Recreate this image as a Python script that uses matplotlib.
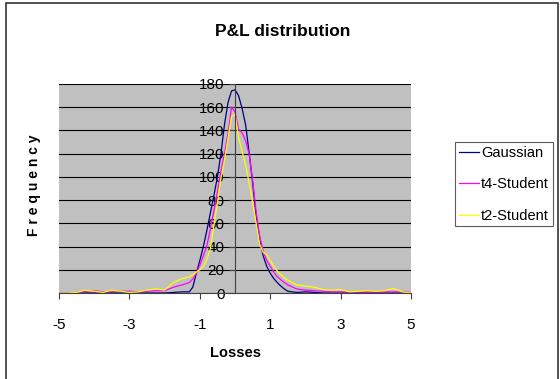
import numpy as np
import matplotlib.pyplot as plt
from matplotlib.patches import Rectangle

plt.rcParams['font.family'] = ['Liberation Sans', 'DejaVu Sans']
plt.rcParams['axes.unicode_minus'] = False

losses = [-5.0, -4.75, -4.5, -4.25, -4.0, -3.75, -3.5, -3.25, -3.0, -2.75,
          -2.5, -2.25, -2.0, -1.75, -1.5,
          -1.4, -1.3, -1.2, -1.1, -1.0, -0.9, -0.8, -0.7, -0.6, -0.5,
          -0.4, -0.3, -0.2, -0.1, 0.0, 0.1, 0.2, 0.3, 0.4, 0.5,
          0.6, 0.7, 0.8, 0.9, 1.0, 1.1, 1.2, 1.3, 1.4,
          1.5, 1.75, 2.0, 2.25, 2.5, 2.75, 3.0, 3.25, 3.5, 3.75,
          4.0, 4.25, 4.5, 4.75, 5.0]

gaussian = [0, 0, 0, 0, 0, 0, 0, 0, 0, 0,
            0, 0, 0, 0.5, 1,
            1, 1, 5, 17, 28, 40, 54, 69, 84, 100,
            120, 145, 164, 174, 175, 170, 159, 145, 121, 95,
            66, 46, 32, 23, 17, 12.5, 9, 6, 3.5,
            1.5, 0.5, 1, 0.5, 0, 0, 0, 0, 0, 0,
            0, 0, 0, 0, 0]

t4_student = [0, 0, 0.5, 1.5, 2, 1, 1.5, 1.5, 1.5, 1,
              1.5, 2, 2, 5, 7,
              8, 9, 12, 17, 24, 32, 41, 55, 71, 87,
              105, 120, 137, 160, 156, 141, 138, 131, 120, 97,
              70, 49, 36, 28, 23, 18, 14, 11.5, 9,
              7, 3.5, 2.5, 2, 1.5, 1, 1, 1, 1, 1,
              1, 1, 1, 1, 0.5]

t2_student = [0, 0, 0.5, 2.5, 1.5, 0.5, 2.5, 1.5, 0.5, 1,
              2.5, 3.5, 2.5, 9, 12.5,
              13, 14, 15.5, 18, 20, 23, 29, 38, 58, 78,
              99, 114, 133, 152, 154, 134, 122, 110, 95, 78,
              60, 42, 35, 33, 28, 23, 19, 16, 13,
              11, 7, 6, 5, 3, 2.5, 3, 1, 1.5, 2,
              1.5, 2, 4, 1, 0]

fig = plt.figure(figsize=(5.6, 3.79), dpi=100)
# chart frame (bottom edge falls just outside the picture)
fig.patches.append(Rectangle((0.0107, -0.02), 0.9857, 1.012, transform=fig.transFigure,
                             fill=False, edgecolor='#333333', linewidth=1.2))

ax = fig.add_axes([0.1054, 0.2269, 0.6286, 0.5515])
ax.set_facecolor('#C0C0C0')

ax.plot(losses, gaussian, color='#000080', lw=0.9, label='Gaussian')
ax.plot(losses, t4_student, color='#FF00FF', lw=0.9, label='t4-Student')
ax.plot(losses, t2_student, color='#FFFF00', lw=0.9, label='t2-Student')

ax.set_xlim(-5, 5)
ax.set_ylim(0, 180)
ax.set_xticks([-5, -3, -1, 1, 3, 5])
ax.set_yticks(range(0, 181, 20))
ax.yaxis.grid(True, color='black', lw=0.8)
ax.set_axisbelow(True)

for s in ['top', 'right']:
    ax.spines[s].set_visible(False)
ax.spines['left'].set_position(('data', 0))
ax.spines['left'].set_color('#404040')
ax.spines['bottom'].set_color('#404040')
ax.tick_params(axis='both', labelsize=11, direction='out', length=4, color='#404040')
ax.tick_params(axis='x', pad=14)

fig.text(0.504, 0.918, 'P&L distribution', fontsize=12.5, fontweight='bold',
         ha='center', va='center')
ax.set_xlabel('Losses', fontsize=10.5, fontweight='bold', labelpad=10)
fig.text(0.06, 0.51, 'F r e q u e n c y', rotation=90, fontsize=10, fontweight='bold',
         ha='center', va='center')

leg = ax.legend(loc='upper left', bbox_to_anchor=(0.8125, 0.6253), bbox_transform=fig.transFigure,
                fontsize=10.5, frameon=True, fancybox=False, edgecolor='#333333',
                handlelength=1.4, handletextpad=0.15, borderpad=0.25, labelspacing=1.2,
                borderaxespad=0)
leg.get_frame().set_linewidth(0.8)

fig.savefig('out.png', dpi=100)
